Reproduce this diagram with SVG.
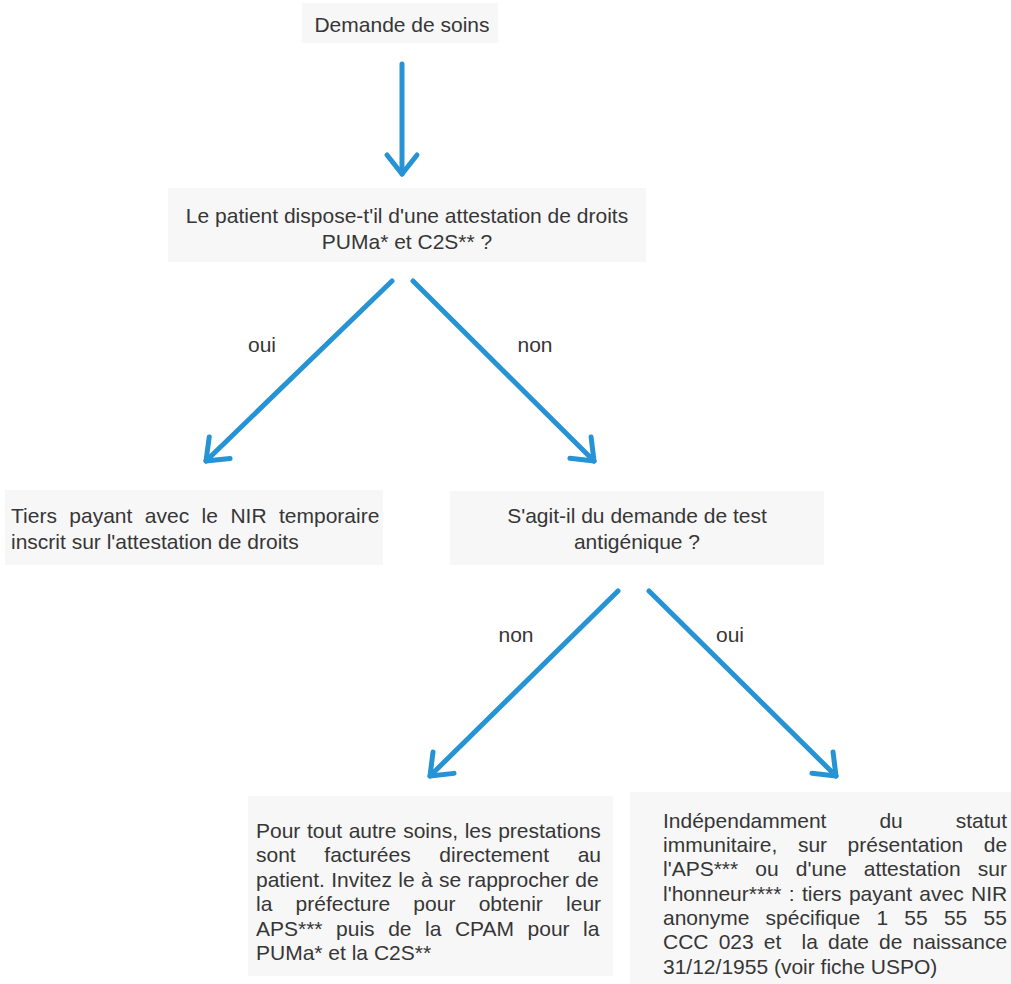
<svg xmlns="http://www.w3.org/2000/svg" width="1011" height="984" viewBox="0 0 1011 984">
<defs>
<style>
.bg{fill:#ffffff}
.box{fill:#f7f7f7}
.t{font-family:"Liberation Sans",Arial,Helvetica,sans-serif;font-size:21px;fill:#363636}
.c{text-anchor:middle}
.conn{stroke:#2593d4;stroke-width:5;fill:none;stroke-linecap:round;marker-end:url(#arr)}
</style>
<marker id="arr" markerUnits="userSpaceOnUse" viewBox="-26 -20 32 40" refX="0" refY="0" markerWidth="32" markerHeight="40" orient="auto">
<path d="M-19,-15 L0,0 L-19,15" fill="none" stroke="#2593d4" stroke-width="5" stroke-linecap="round" stroke-linejoin="round"/>
</marker>
</defs>
<rect class="bg" x="0" y="0" width="1011" height="984"/>

<g id="n1">
<rect class="box" x="302" y="3" width="196" height="40"/>
<text class="t c" x="402" y="32">Demande de soins</text>
</g>

<g id="n2">
<rect class="box" x="168" y="188" width="478" height="74"/>
<text class="t c" x="407" y="223">Le patient dispose-t'il d'une attestation de droits</text>
<text class="t c" x="407" y="249">PUMa* et C2S** ?</text>
</g>

<g id="n3">
<rect class="box" x="5" y="490" width="378" height="75"/>
<text class="t" x="11" y="523" word-spacing="6.6">Tiers payant avec le NIR temporaire</text>
<text class="t" x="11" y="549">inscrit sur l'attestation de droits</text>
</g>

<g id="n4">
<rect class="box" x="450" y="491" width="374" height="74"/>
<text class="t c" x="637" y="523">S'agit-il du demande de test</text>
<text class="t c" x="637" y="549">antigénique ?</text>
</g>

<g id="n5">
<rect class="box" x="248" y="796" width="365" height="180"/>
<text class="t" x="256" y="838" word-spacing="0.8">Pour tout autre soins, les prestations</text>
<text class="t" x="256" y="862" word-spacing="22.8">sont facturées directement au</text>
<text class="t" x="256" y="887" word-spacing="0.5">patient. Invitez le à se rapprocher de</text>
<text class="t" x="256" y="911" word-spacing="17.4">la préfecture pour obtenir leur</text>
<text class="t" x="256" y="936" word-spacing="7.7">APS*** puis de la CPAM pour la</text>
<text class="t" x="256" y="960">PUMa* et la C2S**</text>
</g>

<g id="n6">
<rect class="box" x="630" y="792" width="381" height="192"/>
<text class="t" x="663" y="828" word-spacing="47.1">Indépendamment du statut</text>
<text class="t" x="663" y="852" word-spacing="14.7">immunitaire, sur présentation de</text>
<text class="t" x="663" y="876" word-spacing="11.3">l'APS*** ou d'une attestation sur</text>
<text class="t" x="663" y="901" word-spacing="1.5">l'honneur**** : tiers payant avec NIR</text>
<text class="t" x="663" y="925" word-spacing="10.4">anonyme spécifique 1 55 55 55</text>
<text class="t" x="663" y="949" word-spacing="4.3" xml:space="preserve">CCC 023 et  la date de naissance</text>
<text class="t" x="663" y="974">31/12/1955 (voir fiche USPO)</text>
</g>

<g id="connectors">
<line class="conn" x1="402" y1="64" x2="402" y2="174"/>
<line class="conn" x1="392" y1="281" x2="206" y2="461"/>
<line class="conn" x1="413" y1="281" x2="594" y2="461"/>
<line class="conn" x1="618" y1="591" x2="430" y2="776"/>
<line class="conn" x1="649" y1="591" x2="836" y2="776"/>
<text class="t c" x="262" y="352">oui</text>
<text class="t c" x="535" y="352">non</text>
<text class="t c" x="516" y="642">non</text>
<text class="t c" x="730" y="642">oui</text>
</g>
</svg>
